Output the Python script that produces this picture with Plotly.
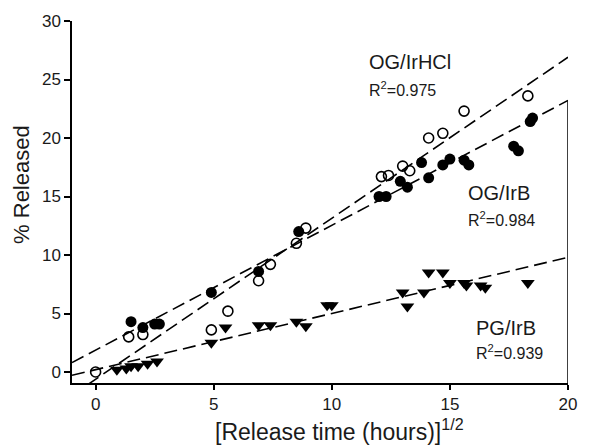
import plotly.graph_objects as go

# OG/IrHCl (open circles)
hcl_x = [0, 1.4, 2.0, 4.9, 5.6, 6.9, 7.4, 8.5, 8.9, 12.1, 12.4, 13.0, 13.3, 14.1, 14.7, 15.6, 18.3]
hcl_y = [0, 3.0, 3.2, 3.6, 5.2, 7.8, 9.2, 11.0, 12.3, 16.7, 16.8, 17.6, 17.2, 20.0, 20.4, 22.3, 23.6]

# OG/IrB (filled circles)
irb_x = [1.5, 2.0, 2.5, 2.7, 4.9, 6.9, 8.6, 12.0, 12.3, 12.9, 13.2, 13.8, 14.1, 14.7, 15.0, 15.6, 15.8, 17.7, 17.9, 18.4, 18.5]
irb_y = [4.3, 3.8, 4.1, 4.1, 6.8, 8.6, 12.0, 15.0, 15.0, 16.3, 15.8, 17.9, 16.6, 17.7, 18.2, 18.1, 17.7, 19.3, 18.9, 21.4, 21.7]

# PG/IrB (filled triangles)
pg_x = [0.9, 1.3, 1.5, 1.8, 2.2, 2.6, 4.9, 5.5, 6.9, 7.4, 8.5, 8.9, 9.8, 10.0, 13.0, 13.2, 13.9, 14.1, 14.7, 15.0, 15.6, 15.7, 16.3, 16.5, 18.3]
pg_y = [0.2, 0.3, 0.5, 0.5, 0.7, 0.9, 2.5, 3.8, 4.0, 4.0, 4.3, 3.9, 5.7, 5.7, 6.8, 5.6, 6.8, 8.5, 8.5, 7.6, 7.6, 7.4, 7.4, 7.2, 7.6]

# Linear fits: slope, intercept
fit_names = ["OG/IrHCl", "OG/IrB", "PG/IrB"]
fit_slopes = [1.376, 1.067, 0.48]
fit_intercepts = [-0.62, 1.87, 0.2]
fit_r2 = ["0.975", "0.984", "0.939"]

x_range = [-1, 20]
y_range = [-0.94, 30]
x_ticks = [0, 5, 10, 15, 20]
y_ticks = [0, 5, 10, 15, 20, 25, 30]

fig = go.Figure()

for s, b in zip(fit_slopes, fit_intercepts):
    xs = [x_range[0], x_range[1]]
    ys = [b + s * xv for xv in xs]
    fig.add_trace(go.Scatter(x=xs, y=ys, mode="lines",
                             line=dict(color="black", width=1.6, dash="13px,6px"),
                             hoverinfo="skip", showlegend=False))

fig.add_trace(go.Scatter(x=hcl_x, y=hcl_y, mode="markers", showlegend=False,
                         marker=dict(symbol="circle-open", size=10, color="black",
                                     line=dict(width=1.6, color="black"))))
fig.add_trace(go.Scatter(x=irb_x, y=irb_y, mode="markers", showlegend=False,
                         marker=dict(symbol="circle", size=11, color="black")))
fig.add_trace(go.Scatter(x=pg_x, y=pg_y, mode="markers", showlegend=False,
                         marker=dict(symbol="triangle-down", size=12, color="black")))

font = "Liberation Sans, Arial, Helvetica, sans-serif"
txtc = "#1a1a1a"

# label positions (data coords) for each fit
lab_x = [11.5, 15.7, 16.0]
lab_y = [26.5, 15.3, 3.8]
r2_y = [24.2, 13.1, 1.7]
for name, r2, lx, ly, ry in zip(fit_names, fit_r2, lab_x, lab_y, r2_y):
    fig.add_annotation(x=lx, y=ly, text=name, showarrow=False, xanchor="left",
                       yanchor="middle", font=dict(size=20, color=txtc, family=font))
    fig.add_annotation(x=lx, y=ry, text="R<sup>2</sup>=" + r2, showarrow=False, xanchor="left",
                       yanchor="middle", font=dict(size=16, color=txtc, family=font))

# axis titles (positioned in paper coords of the plot area)
PL, PR, PT, PB = 72, 577, 21, 383
fig.add_annotation(xref="paper", yref="paper", x=(344 - PL) / (PR - PL), y=-(430 - PB) / (PB - PT),
                   text="[Release time (hours)]<sup>1/2</sup>", showarrow=False,
                   xanchor="center", yanchor="middle", font=dict(size=23, color=txtc, family=font))
fig.add_annotation(xref="paper", yref="paper", x=-(PL - 20) / (PR - PL), y=(PB - 184) / (PB - PT),
                   text="% Released", showarrow=False, textangle=-90,
                   xanchor="center", yanchor="middle", font=dict(size=22, color=txtc, family=font))

# right frame segment
fig.add_shape(type="line", x0=20, x1=20, y0=y_range[0], y1=fit_intercepts[1] + fit_slopes[1] * 20,
              line=dict(color="black", width=1.5), layer="above")

fig.update_layout(
    width=589, height=448,
    margin=dict(l=PL, r=589 - PR, t=PT, b=448 - PB),
    paper_bgcolor="white", plot_bgcolor="white",
    font=dict(family=font, size=17, color=txtc),
)
fig.update_xaxes(range=x_range, tickvals=x_ticks, showgrid=False, zeroline=False,
                 showline=True, linecolor="black", linewidth=1.5,
                 ticks="outside", ticklen=5, tickwidth=1.5, tickcolor="black",
                 tickfont=dict(size=17, color=txtc))
fig.update_yaxes(range=y_range, tickvals=y_ticks, showgrid=False, zeroline=False,
                 showline=True, linecolor="black", linewidth=1.5,
                 ticks="outside", ticklen=6, tickwidth=1.5, tickcolor="black",
                 tickfont=dict(size=17, color=txtc))

fig.write_html("out.html", config={"displayModeBar": False},
               post_script="document.body.style.margin='0px';document.body.style.overflow='hidden';")
